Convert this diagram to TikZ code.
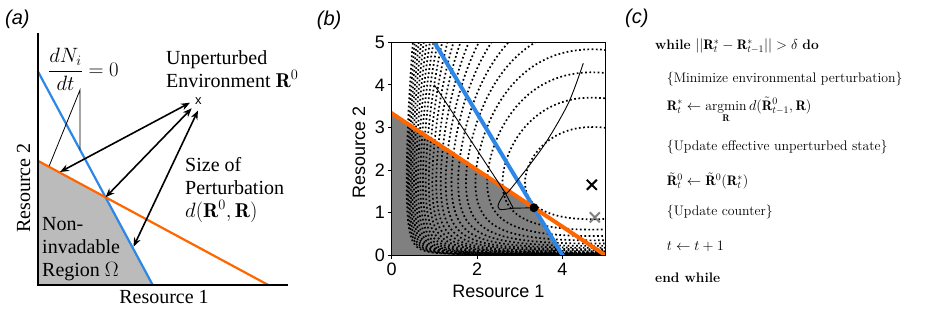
\documentclass[tikz,border=0pt]{standalone}
\usepackage{amsmath}
\usepackage{fontspec}
\newfontfamily\timesfont{Liberation Serif}
\newfontfamily\arialfont{Liberation Sans}
\usetikzlibrary{arrows.meta,shapes.misc}
\definecolor{resblue}{RGB}{45,135,230}
\definecolor{resorange}{RGB}{255,102,0}
\definecolor{regiongray}{RGB}{187,187,187}
\definecolor{darkregion}{RGB}{128,128,128}

% centre of the distance contours in panel (b)
\def\rzx{4.69}
\def\rzy{1.7}
% inverse of h(u)=u-1-ln(u): second argument <0 gives the branch u<1
\def\hupstep{\pgfmathparse{\hu-\hu*(\hu-1-ln(\hu)-\hs)/(\hu-1)}\let\hu\pgfmathresult}
\def\hlowstep{\pgfmathparse{\hw-(exp(-\hw)+\hw-1-\hs)/(1-exp(-\hw))}\let\hw\pgfmathresult}
\pgfmathdeclarefunction{hinv}{2}{%
  \begingroup
  \pgfmathparse{#1}\let\hs\pgfmathresult
  \pgfmathparse{#2}\let\hsg\pgfmathresult
  \ifdim\hs pt<0.0005pt
    \def\pgfmathresult{1}%
  \else
    \ifdim\hsg pt<0pt
      \pgfmathparse{\hs+sqrt(2*\hs)}\let\hw\pgfmathresult
      \hlowstep\hlowstep\hlowstep\hlowstep
      \pgfmathparse{exp(-\hw)}%
    \else
      \pgfmathparse{1+\hs+sqrt(2*\hs)}\let\hu\pgfmathresult
      \hupstep\hupstep\hupstep\hupstep
      \let\pgfmathresult\hu
    \fi
  \fi
  \pgfmathsmuggle\pgfmathresult
  \endgroup}

\begin{document}
\begin{tikzpicture}[x=1pt,y=1pt,
    txt/.style={inner sep=0pt,align=left,font={\timesfont\fontsize{20}{23}\selectfont}},
    panel/.style={inner sep=0pt,anchor=base west,font={\arialfont\itshape\fontsize{20}{24}\selectfont}},
    axlbl/.style={inner sep=0pt,font={\arialfont\fontsize{18}{21}\selectfont}},
    alg/.style={inner sep=0pt,anchor=base west,font={\fontsize{13.8}{16}\selectfont}},
    axisline/.style={line width=1.8pt},
    nullcline/.style={line width=2.2pt},
    pert/.style={{Stealth[length=9pt,width=7pt]}-{Stealth[length=9pt,width=7pt]},line width=1.6pt},
    leader/.style={line width=0.8pt},
    isoline/.style={line width=1.7pt,dash pattern=on 1.7pt off 2.5pt},
    traj/.style={line width=0.9pt},
    cross/.style={cross out,draw,minimum size=8pt,inner sep=0pt,line width=2pt}]
  \useasboundingbox (0,0) rectangle (926,314);

  % (a)
  \node[panel] (laba) at (5,289.5) {(a)};
  \coordinate (orig) at (37.7,29);
  \coordinate (ytop) at (37.7,281);
  \coordinate (xend) at (288,29);
  \coordinate (b1) at (37.7,243);
  \coordinate (b2) at (152.7,29);
  \coordinate (o1) at (37.7,153.3);
  \coordinate (o2) at (268.3,29);
  \coordinate (kink) at (intersection of b1--b2 and o1--o2);
  \fill[regiongray] (orig) -- (o1) -- (kink) -- (b2) -- cycle;
  \draw[nullcline,resblue] (b1) -- (b2);
  \draw[nullcline,resorange] (o1) -- (o2);
  \draw[axisline] (ytop) -- (orig) -- (xend);

  \node[txt] (dndt) at (83.5,245) {$\dfrac{dN_i}{dt}=0$};
  \coordinate (lead) at (80,224);
  \coordinate (onorange) at (49.3,148.3);
  \coordinate (onblue) at (80,164.3);
  \draw[leader] (onorange) -- (lead) -- (onblue);

  \node[inner sep=0pt,font={\arialfont\fontsize{13}{15}\selectfont}] (r0) at (198.3,213) {x};
  \coordinate (tipa) at (190,211.3);
  \coordinate (tipb) at (191.7,205.7);
  \coordinate (tipc) at (198,203.5);
  \coordinate (pa) at (60,142);
  \coordinate (pc) at (133.5,67.3);
  \draw[pert] (pa) -- (tipa);
  \draw[pert] (kink) -- (tipb);
  \draw[pert] (pc) -- (tipc);

  \node[txt,anchor=north west] (unpert) at (166,264) {Unperturbed\\Environment $\mathbf{R}^0$};
  \node[txt,anchor=north west] (size) at (185,157) {Size of\\Perturbation\\$d(\mathbf{R}^0,\mathbf{R})$};
  \node[txt,anchor=north west] (omega) at (42,97) {Non-\\invadable\\Region $\Omega$};
  \node[txt,anchor=north] (xlaba) at (164,24) {Resource 1};
  \node[txt,anchor=base,rotate=90] (ylaba) at (30,126) {Resource 2};

  % (b)
  \node[panel] (labb) at (316.7,288) {(b)};
  \begin{scope}[shift={(391.7,59)},x=42.67pt,y=42.53pt]
    \begin{scope}
      \clip (0,0) rectangle (5,5);
      \fill[darkregion] (0,0) -- (0,3.333) -- (3.333,1.111) -- (4,0) -- cycle;
      \foreach \k in {1,...,23}{
        \pgfmathsetmacro\lev{0.34*\k}
        \draw[isoline] plot[variable=\t,domain=0:360,samples=121]
          ({\rzx*hinv(\lev/\rzx*cos(\t)*cos(\t),cos(\t))},
           {\rzy*hinv(\lev/\rzy*sin(\t)*sin(\t),sin(\t))});
      }
      \draw[resblue,line width=4pt] (0.94,5.1) -- (4.06,-0.1);
      \draw[resorange,line width=4pt] (-0.1,3.4) -- (5.1,-0.067);
    \end{scope}
    \node[circle,fill=black,inner sep=0pt,minimum size=9pt] (rstar) at (3.333,1.111) {};
    \coordinate (start1) at (1,4);
    \coordinate (apex) at (2.66,1.46);
    \coordinate (loopr) at (2.85,1.10);
    \draw[traj] (start1) -- (apex);
    \draw[traj] plot[smooth] coordinates {(4.49,4.51) (4.14,3.57) (3.55,2.55) (2.77,1.53) (2.66,1.46)};
    \draw[traj] (apex) .. controls (2.42,1.14) and (2.46,1.05) .. (2.62,1.07) -- (loopr) -- cycle;
    \draw[traj] (loopr) -- (rstar);
    \node[cross,black] (rzero) at (4.69,1.65) {};
    \node[cross,darkregion] (rtilde) at (4.76,0.885) {};

    \draw[line width=0.8pt] (0,0) rectangle (5,5);
    \foreach \k in {0,...,5}{
      \draw[line width=0.8pt] (0,\k) -- ++(-3.5pt,0);
      \node[axlbl,anchor=east] (ytick\k) at ([xshift=-6.5pt]0,\k) {\k};
    }
    \foreach \k in {0,2,4}{
      \draw[line width=0.8pt] (\k,0) -- ++(0,-3.5pt);
      \node[axlbl,anchor=north] (xtick\k) at ([yshift=-8pt]\k,0) {\k};
    }
    \node[axlbl,anchor=north] (xlabb) at ([yshift=-30pt]2.5,0) {Resource 1};
    \node[axlbl,anchor=base,rotate=90] (ylabb) at ([xshift=-26.7pt]0,2.4) {Resource 2};
  \end{scope}

  % (c)
  \node[panel] (labc) at (625,290) {(c)};
  \node[alg] (whl) at (655,264.7) {\textbf{while} $||\mathbf{R}^*_t-\mathbf{R}^*_{t-1}||>\delta$ \textbf{do}};
  \node[alg] (cmt1) at (666.7,231.3) {\{Minimize environmental perturbation\}};
  \node[alg] (upd1) at (666.7,204) {$\displaystyle\mathbf{R}^*_t\leftarrow\operatorname*{argmin}_{\mathbf{R}} d(\tilde{\mathbf{R}}^0_{t-1},\mathbf{R})$};
  \node[alg] (cmt2) at (666.7,163.3) {\{Update effective unperturbed state\}};
  \node[alg] (upd2) at (666.7,128.7) {$\tilde{\mathbf{R}}^0_t\leftarrow\tilde{\mathbf{R}}^0(\mathbf{R}^*_t)$};
  \node[alg] (cmt3) at (666.7,99) {\{Update counter\}};
  \node[alg] (upd3) at (666.7,63.3) {$t\leftarrow t+1$};
  \node[alg] (endw) at (655,31.3) {\textbf{end while}};
\end{tikzpicture}
\end{document}
